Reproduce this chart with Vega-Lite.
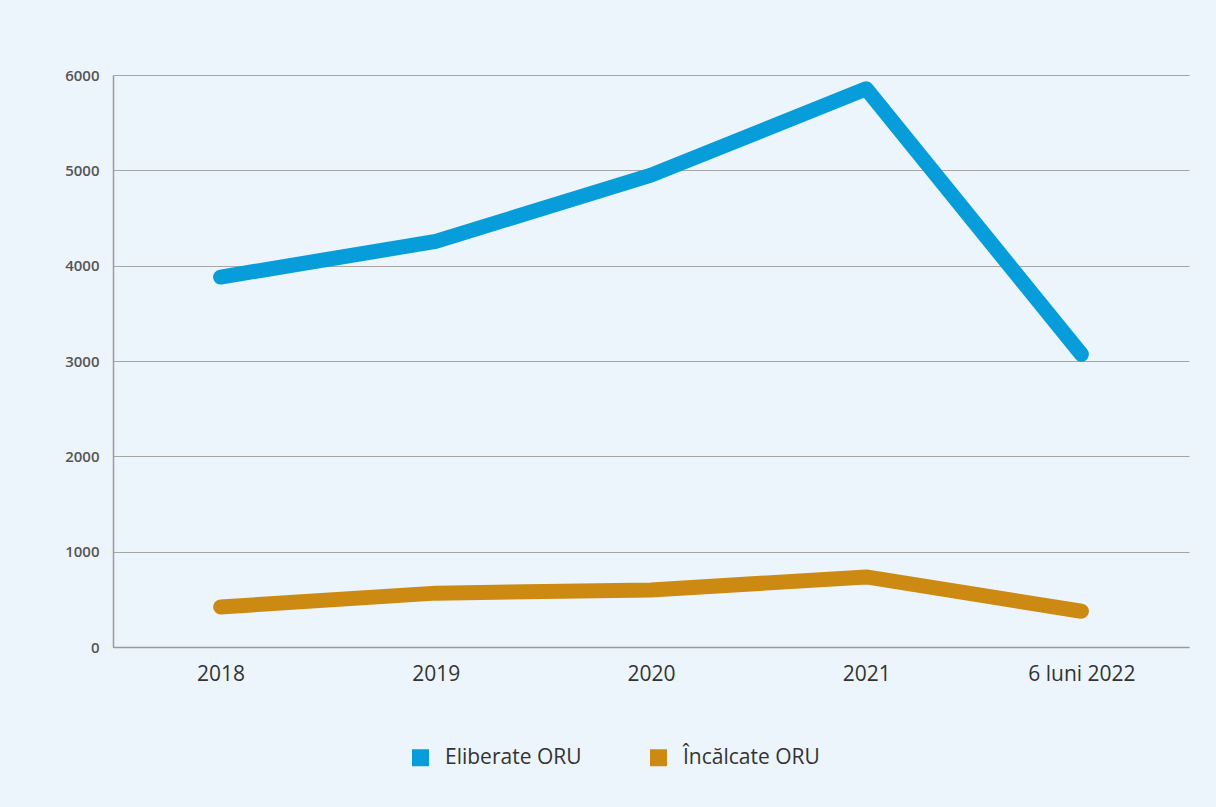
{
  "$schema": "https://vega.github.io/schema/vega-lite/v6.json",
  "autosize": {"type": "none"},
  "width": 1076,
  "height": 572,
  "padding": {"left": 113, "top": 75, "right": 27, "bottom": 160},
  "background": "#EDF5FC",
  "config": {
    "font": "Open Sans",
    "view": {"stroke": null}
  },
  "data": {
    "values": [
      {"an": "2018", "serie": "Eliberate ORU", "valoare": 3880},
      {"an": "2019", "serie": "Eliberate ORU", "valoare": 4255},
      {"an": "2020", "serie": "Eliberate ORU", "valoare": 4950},
      {"an": "2021", "serie": "Eliberate ORU", "valoare": 5855},
      {"an": "6 luni 2022", "serie": "Eliberate ORU", "valoare": 3070},
      {"an": "2018", "serie": "Încălcate ORU", "valoare": 420},
      {"an": "2019", "serie": "Încălcate ORU", "valoare": 565},
      {"an": "2020", "serie": "Încălcate ORU", "valoare": 598},
      {"an": "2021", "serie": "Încălcate ORU", "valoare": 735},
      {"an": "6 luni 2022", "serie": "Încălcate ORU", "valoare": 375}
    ]
  },
  "mark": {"type": "line", "strokeWidth": 15, "strokeCap": "round", "strokeJoin": "round"},
  "encoding": {
    "x": {
      "field": "an",
      "type": "ordinal",
      "sort": null,
      "scale": {"type": "point", "padding": 0.5},
      "axis": {
        "title": null,
        "labelAngle": 0,
        "labelFontSize": 21,
        "labelColor": "#333333",
        "labelPadding": 16,
        "ticks": false,
        "domainColor": "#9a9a9a",
        "domainWidth": 1.5,
        "grid": false
      }
    },
    "y": {
      "field": "valoare",
      "type": "quantitative",
      "scale": {"domain": [0, 6000], "nice": false},
      "axis": {
        "title": null,
        "format": "d",
        "values": [0, 1000, 2000, 3000, 4000, 5000, 6000],
        "labelFontSize": 15,
        "labelFontWeight": 600,
        "labelColor": "#555555",
        "labelPadding": 14,
        "ticks": false,
        "domainColor": "#9a9a9a",
        "domainWidth": 1.5,
        "gridColor": "#a6a6a6",
        "gridWidth": 1
      }
    },
    "color": {
      "field": "serie",
      "type": "nominal",
      "scale": {"domain": ["Eliberate ORU", "Încălcate ORU"], "range": ["#069DDA", "#CC8A12"]},
      "legend": {
        "title": null,
        "orient": "none",
        "legendX": 297,
        "legendY": 672,
        "direction": "horizontal",
        "symbolType": "square",
        "symbolSize": 289,
        "symbolStrokeWidth": 0,
        "labelFontSize": 21,
        "labelColor": "#333333",
        "labelOffset": 14,
        "columnPadding": 66,
        "encode": {
          "symbols": {
            "update": {
              "fill": {"scale": "color", "field": "value"},
              "fillOpacity": {"value": 1},
              "strokeWidth": {"value": 0}
            }
          }
        }
      }
    }
  }
}
